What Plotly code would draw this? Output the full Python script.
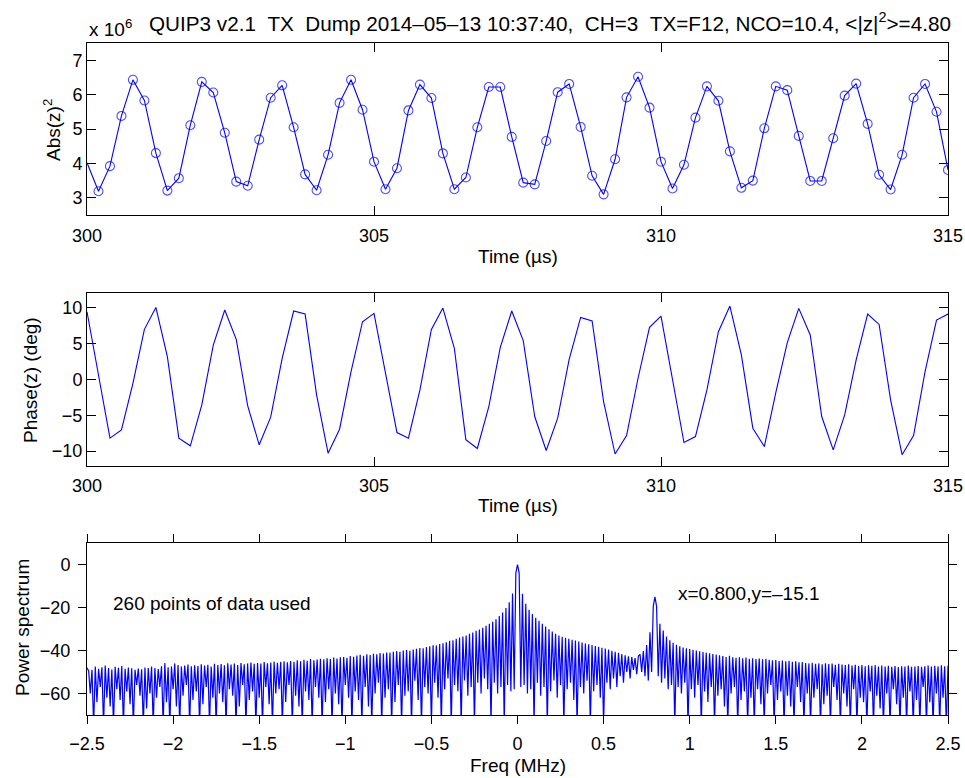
import numpy as np
import plotly.graph_objects as go

# ---------------- data ----------------
time_start_us = 300.0
sample_step_us = 0.2

abs_z2_e6 = [
    4.02, 3.19, 3.92, 5.38, 6.43, 5.83, 4.30, 3.21, 3.57, 5.11,
    6.37, 6.06, 4.89, 3.47, 3.35, 4.69, 5.91, 6.27, 5.05, 3.68,
    3.22, 4.25, 5.76, 6.43, 5.56, 4.05, 3.25, 3.86, 5.54, 6.29,
    5.90, 4.29, 3.25, 3.59, 5.05, 6.22, 6.22, 4.77, 3.44, 3.39,
    4.65, 6.07, 6.31, 5.06, 3.64, 3.10, 4.12, 5.92, 6.52, 5.62,
    4.05, 3.27, 3.96, 5.33, 6.24, 5.82, 4.35, 3.29, 3.50, 5.02,
    6.24, 6.13, 4.80, 3.49, 3.49, 4.73, 5.97, 6.32, 5.15, 3.67,
    3.24, 4.25, 5.91, 6.31, 5.50, 3.81,
]

phase_deg = [
    9.39, 0.6, -8.19, -7.04, -0.56, 6.94, 10.0, 3.14, -8.19, -9.26,
    -3.57, 4.76, 9.63, 5.56, -3.70, -9.12, -5.28, 2.91, 9.49, 9.07,
    -2.18, -10.28, -6.95, 1.06, 8.0, 9.16, 0.87, -7.41, -8.19, -1.48,
    6.94, 9.9, 4.30, -8.4, -9.63, -3.8, 4.44, 9.49, 5.37, -5.19,
    -9.91, -5.42, 2.78, 8.61, 8.1, -3.1, -10.4, -7.83, 0.14, 7.22,
    8.79, 0.0, -8.80, -7.97, -1.48, 6.62, 10.18, 3.38, -6.81, -9.36,
    -1.86, 5.09, 9.86, 6.16, -5.19, -9.82, -4.96, 2.68, 9.07, 7.63,
    -2.87, -10.5, -7.83, 1.06, 8.24, 9.07,
]

freq_min_mhz, freq_max_mhz = -2.5, 2.5
# power spectrum (dB) on a uniform grid of 521 frequencies from -2.5 to 2.5 MHz
power_db = [
    -48.0,
    # -2.50 .. -2.31
    -49.5, -60, -49.0, -75, -47.5, -64, -48.5, -57, -47.8, -75, -47.0, -62, -48.2, -66, -48.8, -75, -47.6, -58, -48.0, -63,
    # -2.31 .. -2.12
    -47.2, -75, -48.5, -59, -47.9, -65, -48.3, -75, -49.0, -56, -48.4, -61, -48.7, -75, -47.9, -67, -48.2, -60, -47.5, -75,
    # -2.12 .. -1.92
    -48.1, -62, -48.6, -57, -47.3, -75, -45.8, -64, -47.8, -75, -47.5, -58, -46.0, -66, -46.8, -75, -47.4, -61, -47.0, -56,
    # -1.92 .. -1.73
    -46.5, -75, -47.3, -63, -46.9, -59, -47.2, -75, -46.4, -65, -47.0, -57, -46.6, -75, -47.4, -62, -46.2, -75, -46.8, -60,
    # -1.73 .. -1.54
    -46.3, -64, -46.9, -75, -45.9, -58, -46.5, -61, -46.1, -75, -46.7, -66, -45.8, -56, -46.4, -75, -46.0, -63, -45.6, -59,
    # -1.54 .. -1.35
    -46.2, -75, -45.8, -62, -46.1, -75, -45.4, -57, -45.9, -65, -45.6, -75, -45.1, -60, -45.7, -58, -45.3, -75, -45.0, -64,
    # -1.35 .. -1.15
    -45.5, -56, -44.9, -75, -45.2, -61, -44.6, -66, -45.0, -75, -44.3, -59, -44.8, -63, -44.0, -75, -44.5, -57, -44.2, -62,
    # -1.15 .. -0.96
    -43.8, -75, -44.1, -64, -43.6, -58, -43.9, -75, -43.3, -60, -43.7, -65, -43.2, -75, -43.0, -56, -43.4, -62, -42.6, -75,
    # -0.96 .. -0.77
    -42.9, -59, -42.3, -63, -42.0, -75, -42.4, -57, -41.8, -66, -42.1, -75, -41.5, -60, -41.7, -55, -41.2, -75, -41.4, -62,
    # -0.77 .. -0.58
    -40.9, -58, -41.0, -75, -40.6, -64, -40.3, -56, -40.6, -75, -40.0, -61, -39.8, -59, -40.1, -75, -39.5, -54, -39.2, -63,
    # -0.58 .. -0.38
    -38.8, -75, -39.0, -57, -38.4, -60, -38.0, -75, -37.6, -55, -37.7, -62, -37.0, -75, -36.6, -58, -36.2, -53, -35.5, -75,
    # -0.38 .. -0.19
    -35.2, -56, -34.6, -59, -34.0, -75, -33.5, -54, -33.0, -61, -32.2, -57, -31.6, -75, -30.8, -55, -30.2, -60, -29.4, -53,
    # -0.19 .. 0.00
    -28.5, -58, -27.6, -75, -26.6, -55, -25.5, -60, -24.0, -57, -22.3, -75, -20.2, -56, -17.6, -59, -13.5, -58, -4.0, 0.0,
    # 0.01 .. 0.19
    -4.0, -57, -13.6, -56, -18.3, -60, -21.0, -58, -23.0, -75, -24.8, -55, -26.2, -61, -27.6, -57, -28.9, -75, -30.1, -59,
    # 0.20 .. 0.38
    -31.2, -54, -32.2, -62, -33.0, -56, -33.6, -75, -34.1, -58, -34.6, -55, -35.0, -63, -35.4, -75, -35.8, -57, -36.3, -60,
    # 0.39 .. 0.58
    -36.7, -54, -37.1, -75, -37.5, -59, -37.9, -56, -38.3, -62, -38.7, -75, -39.1, -55, -39.6, -58, -40.1, -53, -40.6, -57,
    # 0.59 .. 0.77
    -41.1, -52, -41.7, -55, -42.2, -50, -42.7, -53, -43.1, -49, -43.5, -51, -42.6, -41.8, -50, -40.2, -52, -37.5, -54, -31.5,
    # 0.78 .. 0.96
    -50, -19.5, -15.1, -19.5, -52, -27.6, -55, -30.7, -53, -33.5, -58, -35.2, -56, -36.4, -75, -37.3, -57, -38.0, -60, -38.6,
    # 0.97 .. 1.15
    -55, -39.0, -75, -39.3, -58, -39.7, -62, -40.0, -56, -40.4, -75, -40.7, -59, -41.0, -64, -41.3, -57, -41.6, -75, -41.9,
    # 1.16 .. 1.35
    -61, -42.2, -58, -42.6, -66, -43.0, -75, -42.4, -60, -43.2, -57, -43.4, -75, -43.1, -63, -43.6, -59, -43.3, -75, -43.8,
    # 1.36 .. 1.54
    -62, -43.6, -75, -44.0, -58, -43.7, -65, -44.1, -75, -43.9, -60, -44.3, -56, -44.6, -75, -44.4, -63, -44.9, -59, -44.7,
    # 1.55 .. 1.73
    -75, -45.0, -61, -44.8, -66, -45.2, -75, -45.0, -57, -45.5, -64, -45.3, -75, -45.8, -60, -46.0, -75, -45.7, -62, -46.2,
    # 1.74 .. 1.92
    -58, -46.0, -75, -46.4, -65, -45.9, -61, -46.3, -75, -46.1, -57, -46.6, -63, -46.2, -75, -46.5, -60, -46.8, -66, -46.4,
    # 1.93 .. 2.12
    -75, -47.0, -58, -46.6, -75, -47.2, -62, -46.8, -64, -47.3, -75, -46.9, -59, -47.1, -75, -46.7, -61, -47.4, -67, -47.0,
    # 2.13 .. 2.31
    -75, -47.5, -60, -47.1, -75, -47.6, -58, -47.2, -65, -47.7, -75, -47.3, -62, -47.5, -75, -47.0, -59, -47.6, -75, -47.4,
    # 2.32 .. 2.50
    -63, -47.2, -75, -47.6, -57, -47.3, -75, -47.0, -64, -47.5, -75, -47.1, -60, -47.4, -75, -46.9, -62, -47.3, -75, -47.1,
]

# ---------------- derived axes ----------------
time_us = time_start_us + sample_step_us * np.arange(len(abs_z2_e6))
freq_mhz = np.linspace(freq_min_mhz, freq_max_mhz, len(power_db))

# ---------------- layout geometry (pixels) ----------------
W, H = 965, 778
L, R, T, B = 87, 948, 43, 715


def py(p):
    return (B - p) / (B - T)


def px(p):
    return (p - L) / (R - L)


FONT = "Liberation Sans, Arial, Helvetica, sans-serif"
BLUE = "#0000FF"
TICKSZ = 18
LABSZ = 19
TITLESZ = 20.7

fig = go.Figure()

marker_sizes = [0] + [9] * (len(abs_z2_e6) - 1)
fig.add_trace(go.Scatter(
    x=time_us, y=abs_z2_e6, mode="lines+markers",
    line=dict(color=BLUE, width=1.1),
    marker=dict(symbol="circle-open", size=marker_sizes, color=BLUE, line=dict(width=1.1, color=BLUE)),
    xaxis="x", yaxis="y", showlegend=False, hoverinfo="skip",
))
fig.add_trace(go.Scatter(
    x=time_us, y=phase_deg, mode="lines",
    line=dict(color=BLUE, width=1.1),
    xaxis="x2", yaxis="y2", showlegend=False, hoverinfo="skip",
))
fig.add_trace(go.Scatter(
    x=freq_mhz, y=power_db, mode="lines",
    line=dict(color=BLUE, width=1.2),
    xaxis="x3", yaxis="y3", showlegend=False, hoverinfo="skip",
))

common = dict(
    showline=True, linecolor="black", linewidth=1, mirror="allticks",
    tickcolor="black", tickwidth=1, showgrid=False, zeroline=False, automargin=False,
    tickfont=dict(family=FONT, size=TICKSZ, color="black"),
)
inside = dict(ticks="inside", ticklen=9)
outside = dict(ticks="outside", ticklen=8)

fig.update_layout(
    width=W, height=H, autosize=False,
    margin=dict(l=L, r=W - R, t=T, b=H - B, pad=0),
    paper_bgcolor="white", plot_bgcolor="white",
    font=dict(family=FONT, color="black"),
    xaxis=dict(domain=[0, 1], anchor="y", range=[300, 315], tick0=300, dtick=5,
               ticklabelstandoff=4, **common, **inside),
    yaxis=dict(domain=[py(215), 1], anchor="x", range=[2.5, 7.5], tick0=3, dtick=1,
               ticklabelstandoff=0, **common, **inside),
    xaxis2=dict(domain=[0, 1], anchor="y2", range=[300, 315], tick0=300, dtick=5,
                ticklabelstandoff=4, **common, **inside),
    yaxis2=dict(domain=[py(465.5), py(293)], anchor="x2", range=[-12, 12], tick0=-10, dtick=5,
                ticklabelstandoff=0, **common, **inside),
    xaxis3=dict(domain=[0, 1], anchor="y3", range=[-2.5, 2.5], tick0=-2.5, dtick=0.5,
                ticklabelstandoff=4, **common, **outside),
    yaxis3=dict(domain=[0, py(543)], anchor="x3", range=[-70, 10], tick0=-60, dtick=20,
                ticklabelstandoff=4, **common, **outside),
)

NB = "\u00a0"
annots = [
    # exponent label and title
    dict(x=px(87), y=py(28), text="x 10<sup>6</sup>", xanchor="left", yanchor="middle", size=LABSZ),
    dict(x=px(147), y=py(22), text=f"QUIP3 v2.1{NB}{NB}TX{NB}{NB}Dump 2014–05–13 10:37:40,{NB}{NB}CH=3{NB}{NB}TX=F12, NCO=10.4, &lt;|z|<sup>2</sup>&gt;=4.80",
         xanchor="left", yanchor="middle", size=TITLESZ),
    # x axis titles
    dict(x=0.5, y=py(256), text="Time (µs)", xanchor="center", yanchor="middle", size=LABSZ),
    dict(x=0.5, y=py(505), text="Time (µs)", xanchor="center", yanchor="middle", size=LABSZ),
    dict(x=0.5, y=py(765), text="Freq (MHz)", xanchor="center", yanchor="middle", size=LABSZ),
]
for a in annots:
    fig.add_annotation(x=a["x"], y=a["y"], xref="paper", yref="paper", text=a["text"],
                       xanchor=a["xanchor"], yanchor=a["yanchor"], showarrow=False,
                       font=dict(family=FONT, size=a["size"], color="black"))

# y axis titles (rotated)
for (xp, yp, txt) in [(52, 130, "Abs(z)<sup>2</sup>"), (30, 380, "Phase(z) (deg)"), (22, 628, "Power spectrum")]:
    fig.add_annotation(x=px(xp), y=py(yp), xref="paper", yref="paper", text=txt, textangle=-90,
                       xanchor="center", yanchor="middle", showarrow=False,
                       font=dict(family=FONT, size=LABSZ, color="black"))

# in-plot text on spectrum
fig.add_annotation(x=-2.36, y=-18.3, xref="x3", yref="y3", text="260 points of data used",
                   xanchor="left", yanchor="middle", showarrow=False,
                   font=dict(family=FONT, size=LABSZ, color="black"))
fig.add_annotation(x=0.919, y=-13.5, xref="x3", yref="y3", text="x=0.800,y=–15.1",
                   xanchor="left", yanchor="middle", showarrow=False,
                   font=dict(family=FONT, size=LABSZ, color="black"))

fig.write_html("out.html")
